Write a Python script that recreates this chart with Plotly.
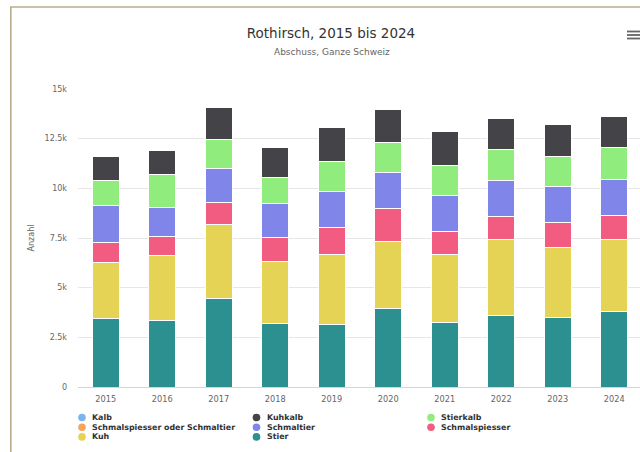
import plotly.graph_objects as go

years = ["2015", "2016", "2017", "2018", "2019", "2020", "2021", "2022", "2023", "2024"]

kalb = [0, 0, 0, 0, 0, 0, 0, 0, 0, 0]
schmalsp_oder_schmaltier = [0, 0, 0, 0, 0, 0, 0, 0, 0, 0]
stier = [3450, 3330, 4480, 3200, 3130, 3940, 3230, 3620, 3520, 3820]
kuh = [2810, 3300, 3690, 3130, 3550, 3400, 3440, 3820, 3520, 3620]
schmalspiesser = [1010, 930, 1110, 1210, 1370, 1620, 1180, 1160, 1230, 1200]
schmaltier = [1850, 1500, 1700, 1700, 1770, 1850, 1770, 1800, 1800, 1830]
stierkalb = [1250, 1620, 1480, 1330, 1520, 1480, 1530, 1530, 1520, 1600]
kuhkalb = [1250, 1210, 1630, 1480, 1700, 1680, 1700, 1580, 1630, 1570]

ytickvals = [0, 2500, 5000, 7500, 10000, 12500, 15000]
yticktext = ["0", "2.5k", "5k", "7.5k", "10k", "12.5k", "15k"]

# stacking order bottom -> top
stack = [
    ("Stier", stier, "#2b908f"),
    ("Kuh", kuh, "#e4d354"),
    ("Schmalspiesser", schmalspiesser, "#f15c80"),
    ("Schmaltier", schmaltier, "#8085e9"),
    ("Stierkalb", stierkalb, "#90ed7d"),
    ("Kuhkalb", kuhkalb, "#434348"),
    ("Kalb", kalb, "#7cb5ec"),
    ("Schmalspiesser oder Schmaltier", schmalsp_oder_schmaltier, "#f7a35c"),
]
legend_order = ["Kalb", "Kuhkalb", "Stierkalb", "Schmalspiesser oder Schmaltier",
                "Schmaltier", "Schmalspiesser", "Kuh", "Stier"]
colors = {n: c for n, _, c in stack}

W, H = 640, 452
L, T, R, B = 78, 89, 0, 65
PW, PH = W - L - R, H - T - B
FONT = "DejaVu Sans"


def px2x(px):
    return (px - L) / PW


def py2y(py):
    return (H - B - py) / PH


fig = go.Figure()
for name, vals, col in stack:
    if sum(vals) == 0:
        continue
    fig.add_trace(go.Bar(x=years, y=vals, name=name, showlegend=False,
                         marker=dict(color=col, line=dict(color="#ffffff", width=1)),
                         hoverinfo="x+y+name"))

shapes = []
annotations = []

# custom legend
for i, name in enumerate(legend_order):
    col_i, row_i = i % 3, i // 3
    cx = 82 + 174.5 * col_i
    cy = 417.5 + 9.7 * row_i
    r = 3.8
    shapes.append(dict(type="circle", xref="paper", yref="paper",
                       x0=px2x(cx - r), x1=px2x(cx + r), y0=py2y(cy + r), y1=py2y(cy - r),
                       fillcolor=colors[name], line=dict(width=0)))
    annotations.append(dict(text="<b>%s</b>" % name, xref="paper", yref="paper",
                            x=px2x(cx + 8), y=py2y(cy), xanchor="left", yanchor="middle",
                            showarrow=False, font=dict(family=FONT, size=7.9, color="#333333")))

# border (left and top)
bcol = "#b7ad8b"
shapes.append(dict(type="line", xref="paper", yref="paper", x0=px2x(10.8), x1=px2x(10.8),
                   y0=py2y(7), y1=py2y(460), line=dict(color=bcol, width=1.6)))
shapes.append(dict(type="line", xref="paper", yref="paper", x0=px2x(10), x1=px2x(650),
                   y0=py2y(7), y1=py2y(7), line=dict(color=bcol, width=1.6)))

# hamburger menu
for yy in [31.5, 35, 38.5]:
    shapes.append(dict(type="line", xref="paper", yref="paper", x0=px2x(627), x1=px2x(642),
                       y0=py2y(yy), y1=py2y(yy), line=dict(color="#666666", width=1.8)))

# subtitle
annotations.append(dict(text="Abschuss, Ganze Schweiz", xref="paper", yref="paper",
                        x=px2x(332), y=py2y(52), xanchor="center", yanchor="middle",
                        showarrow=False, font=dict(family=FONT, size=9, color="#666666")))
# y axis title
annotations.append(dict(text="Anzahl", xref="paper", yref="paper", textangle=-90,
                        x=px2x(30.5), y=py2y(238), xanchor="center", yanchor="middle",
                        showarrow=False, font=dict(family=FONT, size=8, color="#666666")))

fig.update_layout(
    width=W, height=H,
    margin=dict(l=L, r=R, t=T, b=B, autoexpand=False),
    paper_bgcolor="#ffffff", plot_bgcolor="#ffffff",
    barmode="stack", bargap=0.528,
    showlegend=False,
    font=dict(family=FONT, color="#666666"),
    title=dict(text="Rothirsch, 2015 bis 2024", x=331 / W, xref="container",
               y=1 - 33.5 / H, yref="container", xanchor="center", yanchor="middle",
               font=dict(family=FONT, size=13.5, color="#333333")),
    xaxis=dict(type="category", range=[-0.49, 9.456], showgrid=False,
               showline=True, linecolor="#ccd6eb", linewidth=1,
               ticks="", tickfont=dict(family=FONT, size=8.2, color="#666666"),
               ticklabelstandoff=4, fixedrange=True),
    yaxis=dict(range=[0, 15000], tickvals=ytickvals, ticktext=yticktext,
               showgrid=True, gridcolor="#e6e6e6", gridwidth=1, zeroline=False,
               showline=False, ticks="", ticklabelstandoff=10,
               tickfont=dict(family=FONT, size=8, color="#666666"), fixedrange=True),
    shapes=shapes,
    annotations=annotations,
)

fig.write_html("out.html", config={"displayModeBar": False},
               post_script="document.body.style.margin='0px';")
